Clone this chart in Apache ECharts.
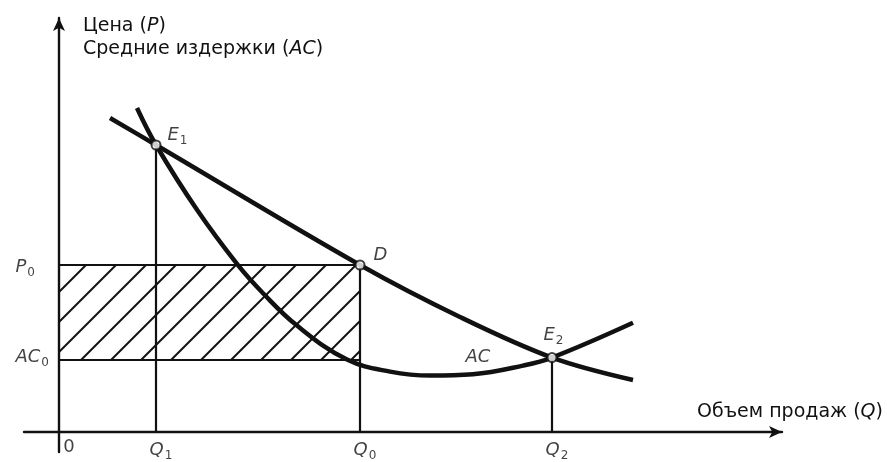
<!DOCTYPE html>
<html><head><meta charset="utf-8">
<script src="https://cdn.jsdelivr.net/npm/echarts@6/dist/echarts.min.js"></script>
<style>html,body{margin:0;padding:0;background:#fff}#c{width:887px;height:462px}</style>
</head><body><div id="c"></div>
<script>
// ---- data ----
const demandQ = [10.2, 19.4, 60.2, 80.2, 98.6, 114.8];
const demandP = [78.5, 71.75, 41.75, 28.75, 18.6, 13];
const acQ = [15.6, 19.4, 27.6, 35.8, 40.8, 47.6, 57.6, 66.2, 74.2, 82.8, 92.8, 98.6, 114.8];
const acC = [81, 71.75, 55.55, 41.7, 34.7, 26.6, 18.1, 15.1, 14.1, 14.45, 16.6, 18.6, 27.3];
const qMarks = [19.4, 60.2, 98.6];          // Q1, Q0, Q2
const qNames = ['1', '0', '2'];
const priceMarks = [41.75, 18];              // P0, AC0
const pointNames = ['E1', 'D', 'E2'];
const pointQ = [19.4, 60.2, 98.6];
const pointP = [71.75, 41.75, 18.6];
const acLabelPos = [83.8, 18.6];

const FONT = '"DejaVu Sans", Verdana, sans-serif';
const INK = '#111';
const rich = {
  n: {fontFamily: FONT, fontSize: 18, color: INK},
  i: {fontFamily: FONT, fontSize: 18, fontStyle: 'italic', color: INK},
  s: {fontFamily: FONT, fontSize: 12, color: INK, padding: [11, 0, 0, 1]}
};
const richName = {
  n: {fontFamily: FONT, fontSize: 19, color: INK},
  i: {fontFamily: FONT, fontSize: 19, fontStyle: 'italic', color: INK}
};

const Q1 = qMarks[0], Q0 = qMarks[1], Q2 = qMarks[2];
const P0 = priceMarks[0], AC0 = priceMarks[1];

function seg(a, b, w) {
  return {type: 'line', data: [a, b], symbol: 'none', silent: true, z: 3,
    lineStyle: {color: INK, width: w}};
}

const chart = echarts.init(document.getElementById('c'), null, {renderer: 'canvas'});
chart.setOption({
  animation: false,
  backgroundColor: '#fff',
  grid: {left: 24, right: 105, top: 18, bottom: 10},
  xAxis: {
    type: 'value', min: -7, max: 144.6,
    axisLine: {onZero: true, symbol: ['none', 'arrow'], symbolSize: [9, 13],
      lineStyle: {color: INK, width: 2.4}},
    axisTick: {show: false}, axisLabel: {show: false}, splitLine: {show: false},
    name: '{n|Объем продаж (}{i|Q}{n|)}', nameLocation: 'end', nameGap: -85,
    nameTextStyle: {rich: richName, align: 'left', verticalAlign: 'bottom', padding: [0, 0, 10, 0]}
  },
  yAxis: {
    type: 'value', min: -5, max: 103.5,
    axisLine: {onZero: true, symbol: ['none', 'arrow'], symbolSize: [9, 13],
      lineStyle: {color: INK, width: 2.4}},
    axisTick: {show: false}, axisLabel: {show: false}, splitLine: {show: false},
    name: '{n|Цена (}{i|P}{n|)}\n{n|Средние издержки (}{i|AC}{n|)}', nameLocation: 'end', nameGap: 3,
    nameTextStyle: {rich: richName, align: 'left', verticalAlign: 'top', lineHeight: 23, padding: [0, 0, 0, 24]}
  },
  series: [
    {
      type: 'custom', z: 1, silent: true,
      data: [[0, AC0, Q0, P0]],
      renderItem: function (params, api) {
        const a = api.coord([api.value(0), api.value(1)]);
        const b = api.coord([api.value(2), api.value(3)]);
        const L = Math.min(a[0], b[0]), R = Math.max(a[0], b[0]);
        const T = Math.min(a[1], b[1]), B = Math.max(a[1], b[1]);
        const m = 1, step = 30, start = m * L + B + 22;
        const children = [];
        for (let s = start - 20 * step; s <= m * R + B + step; s += step) {
          const x1 = Math.max(L, (s - B) / m), x2 = Math.min(R, (s - T) / m);
          if (x2 - x1 > 1) {
            children.push({type: 'line',
              shape: {x1: x1, y1: s - m * x1, x2: x2, y2: s - m * x2},
              style: {stroke: INK, lineWidth: 2}});
          }
        }
        return {type: 'group', children: children};
      }
    },
    seg([0, P0], [Q0, P0], 2.2),
    seg([0, AC0], [Q0, AC0], 2.2),
    seg([Q1, 0], [pointQ[0], pointP[0]], 2.2),
    seg([Q0, 0], [Q0, P0], 2.2),
    seg([Q2, 0], [pointQ[2], pointP[2]], 2.2),
    {
      type: 'line', name: 'demand', smooth: 0.35, symbol: 'none', z: 4,
      data: demandQ.map((q, k) => [q, demandP[k]]),
      lineStyle: {color: INK, width: 4.5}
    },
    {
      type: 'line', name: 'AC', smooth: 0.4, symbol: 'none', z: 4,
      data: acQ.map((q, k) => [q, acC[k]]),
      lineStyle: {color: INK, width: 4.5}
    },
    {
      type: 'scatter', z: 6, symbol: 'circle', symbolSize: 9,
      itemStyle: {color: '#fff', borderColor: INK, borderWidth: 2},
      data: pointQ.map((q, k) => ({
        value: [q, pointP[k]],
        label: {
          show: true, rich: rich,
          formatter: pointNames[k].length > 1 ? '{i|' + pointNames[k][0] + '}{s|' + pointNames[k][1] + '}' : '{i|' + pointNames[k] + '}',
          position: 'right',
          distance: k === 2 ? -14 : 6,
          offset: k === 0 ? [0, -10] : (k === 1 ? [2, -10] : [0, -22])
        }
      }))
    },
    {
      type: 'scatter', z: 7, symbolSize: 0, silent: true,
      data: [].concat(
        qMarks.map((q, k) => ({value: [q, 0], label: {show: true, rich: rich,
          formatter: '{i|Q}{s|' + qNames[k] + '}', position: 'bottom', distance: 7, offset: [5, 0]}})),
        [{value: [0, 0], label: {show: true, rich: rich, formatter: '{n|0}', position: 'bottom', distance: 6, offset: [10, 0]}}],
        [{value: [0, P0], label: {show: true, rich: rich, formatter: '{i|P}{s|0}', position: 'left', distance: 24, offset: [0, 2]}}],
        [{value: [0, AC0], label: {show: true, rich: rich, formatter: '{i|AC}{s|0}', position: 'left', distance: 10, offset: [0, -3]}}],
        [{value: acLabelPos, label: {show: true, rich: rich, formatter: '{i|AC}', position: 'inside'}}]
      )
    }
  ]
});
</script>
</body></html>
